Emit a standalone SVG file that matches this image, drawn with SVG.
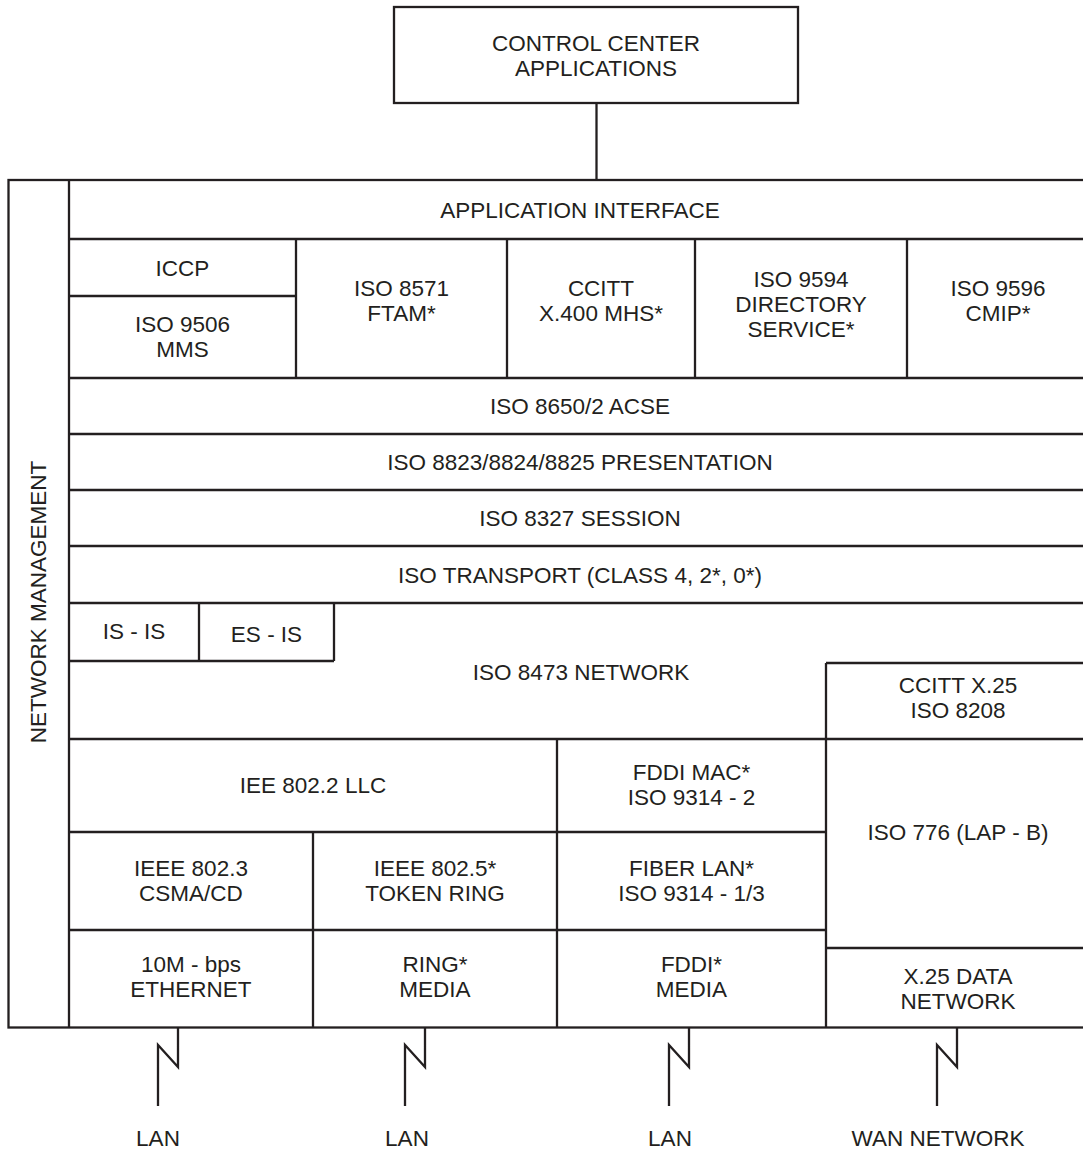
<svg xmlns="http://www.w3.org/2000/svg" width="1083" height="1150" viewBox="0 0 1083 1150">
<style>
.b{fill:none;stroke:#231f20;stroke-width:2.3}
.l{fill:none;stroke:#231f20;stroke-width:2.3}
text{font-family:"Liberation Sans",Arial,sans-serif;font-size:22.5px;fill:#231f20;text-anchor:middle}
</style>
<rect width="1083" height="1150" fill="#fff"/>
<g id="control-center"><rect class="b" x="394" y="7" width="404" height="96"/><text x="596" y="51">CONTROL CENTER</text><text x="596" y="76">APPLICATIONS</text></g>
<g id="frame"><rect class="b" x="8.5" y="180" width="1082" height="847.5"/><line class="b" x1="69" y1="180" x2="69" y2="1027.5"/></g>
<g id="network-management"><text transform="translate(46,602) rotate(-90)">NETWORK MANAGEMENT</text></g>
<g id="application-interface"><line class="b" x1="69" y1="239" x2="1090" y2="239"/><text x="580" y="218">APPLICATION INTERFACE</text></g>
<g id="iccp"><line class="b" x1="69" y1="296" x2="296" y2="296"/><text x="182.5" y="276">ICCP</text></g>
<g id="mms"><text x="182.5" y="332">ISO 9506</text><text x="182.5" y="357">MMS</text></g>
<g id="ftam"><line class="b" x1="296" y1="239" x2="296" y2="378"/><text x="401.5" y="296">ISO 8571</text><text x="401.5" y="321">FTAM*</text></g>
<g id="mhs"><line class="b" x1="507" y1="239" x2="507" y2="378"/><text x="601" y="296">CCITT</text><text x="601" y="321">X.400 MHS*</text></g>
<g id="directory"><line class="b" x1="695" y1="239" x2="695" y2="378"/><text x="801" y="287">ISO 9594</text><text x="801" y="312">DIRECTORY</text><text x="801" y="337">SERVICE*</text></g>
<g id="cmip"><line class="b" x1="907" y1="239" x2="907" y2="378"/><text x="998" y="296">ISO 9596</text><text x="998" y="321">CMIP*</text></g>
<g id="acse"><line class="b" x1="69" y1="378" x2="1090" y2="378"/><text x="580" y="414">ISO 8650/2 ACSE</text></g>
<g id="presentation"><line class="b" x1="69" y1="434" x2="1090" y2="434"/><text x="580" y="470">ISO 8823/8824/8825 PRESENTATION</text></g>
<g id="session"><line class="b" x1="69" y1="490" x2="1090" y2="490"/><text x="580" y="526">ISO 8327 SESSION</text></g>
<g id="transport"><line class="b" x1="69" y1="546" x2="1090" y2="546"/><text x="580" y="583">ISO TRANSPORT (CLASS 4, 2*, 0*)</text></g>
<g id="is-is"><line class="b" x1="69" y1="603" x2="1090" y2="603"/><line class="b" x1="69" y1="661" x2="334" y2="661"/><text x="134" y="639">IS - IS</text></g>
<g id="es-is"><line class="b" x1="199" y1="603" x2="199" y2="661"/><line class="b" x1="334" y1="603" x2="334" y2="661"/><text x="266.5" y="642">ES - IS</text></g>
<g id="network"><text x="581" y="680">ISO 8473 NETWORK</text></g>
<g id="x25"><line class="b" x1="826" y1="663" x2="1090" y2="663"/><line class="b" x1="826" y1="663" x2="826" y2="1027.5"/><text x="958" y="693">CCITT X.25</text><text x="958" y="718">ISO 8208</text></g>
<g id="llc"><line class="b" x1="69" y1="739" x2="1090" y2="739"/><line class="b" x1="557" y1="739" x2="557" y2="1027.5"/><text x="313" y="793">IEE 802.2 LLC</text></g>
<g id="fddi-mac"><text x="691.5" y="780">FDDI MAC*</text><text x="691.5" y="805">ISO 9314 - 2</text></g>
<g id="lap-b"><text x="958" y="840">ISO 776 (LAP - B)</text></g>
<g id="csma"><line class="b" x1="69" y1="832" x2="826" y2="832"/><line class="b" x1="313" y1="832" x2="313" y2="1027.5"/><text x="191" y="876">IEEE 802.3</text><text x="191" y="901">CSMA/CD</text></g>
<g id="token-ring"><text x="435" y="876">IEEE 802.5*</text><text x="435" y="901">TOKEN RING</text></g>
<g id="fiber-lan"><text x="691.5" y="876">FIBER LAN*</text><text x="691.5" y="901">ISO 9314 - 1/3</text></g>
<g id="ethernet"><line class="b" x1="69" y1="930" x2="826" y2="930"/><text x="191" y="972">10M - bps</text><text x="191" y="997">ETHERNET</text></g>
<g id="ring-media"><text x="435" y="972">RING*</text><text x="435" y="997">MEDIA</text></g>
<g id="fddi-media"><text x="691.5" y="972">FDDI*</text><text x="691.5" y="997">MEDIA</text></g>
<g id="x25-data"><line class="b" x1="826" y1="948" x2="1090" y2="948"/><text x="958" y="984">X.25 DATA</text><text x="958" y="1009">NETWORK</text></g>
<g id="connectors">
<line class="l" x1="596.5" y1="103" x2="596.5" y2="180"/>
<polyline class="l" points="178,1027.5 178,1067 158,1045 158,1106"/>
<polyline class="l" points="425,1027.5 425,1067 405,1045 405,1106"/>
<polyline class="l" points="689,1027.5 689,1067 669,1045 669,1106"/>
<polyline class="l" points="957,1027.5 957,1067 937,1045 937,1106"/>
</g>
<g id="labels"><text x="158" y="1146">LAN</text><text x="407" y="1146">LAN</text><text x="670" y="1146">LAN</text><text x="938" y="1146">WAN NETWORK</text></g>
</svg>
